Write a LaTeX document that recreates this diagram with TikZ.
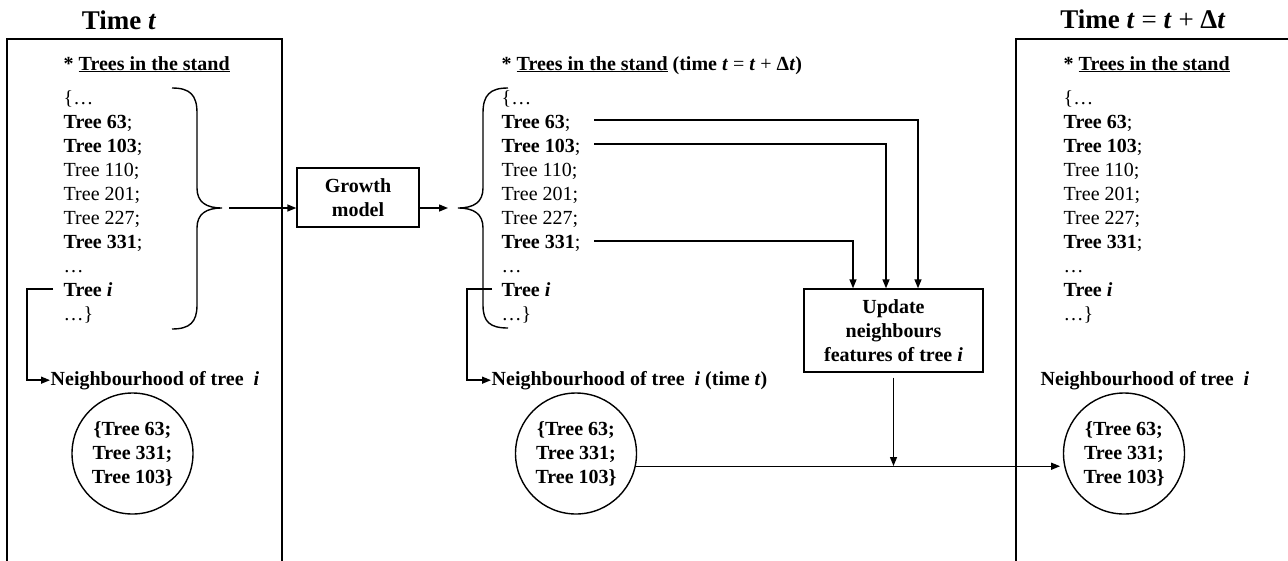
\documentclass[tikz,border=0pt]{standalone}
\usepackage{fontspec}
\setmainfont{Liberation Serif}
\usetikzlibrary{arrows.meta,calc}
\begin{document}
\begin{tikzpicture}[x=1pt,y=-1pt,
  line width=1.4pt,
  arr/.style={-{Triangle[length=9pt,width=7pt]}},
  lst/.style={anchor=base west,inner sep=0pt,font=\fontsize{20}{24}\selectfont},
  lstb/.style={anchor=base west,inner sep=0pt,font=\fontsize{20}{24}\selectfont\bfseries},
  ttl/.style={anchor=base,inner sep=0pt,font=\fontsize{27}{30}\selectfont\bfseries},
  procbox/.style={draw,rectangle,inner sep=0pt,align=center,font=\fontsize{20}{24}\selectfont\bfseries},
  nbcircle/.style={draw,circle,minimum size=121pt,inner sep=0pt,align=center,font=\fontsize{20}{24}\selectfont\bfseries},
]
\useasboundingbox (0,0) rectangle (1288,560);

% panels
\draw (7,562) -- (7,39) -- (282,39) -- (282,562);
\draw (1016,562) -- (1016,39) -- (1290,39);

% titles
\node[ttl] (tL) at (119,29) {Time \textit{t}};
\node[ttl] (tR) at (1143,28) {Time \textit{t} {\mdseries=} \textit{t} {\mdseries+} Δ\textit{t}};

% headers
\node[lstb] (hL) at (63,70) {* \underline{Trees in the stand}};
\node[lstb] (hM) at (501,70) {* \underline{Trees in the stand} (time \textit{t} {\mdseries=} \textit{t} {\mdseries+} Δ\textit{t})};
\node[lstb] (hR) at (1063,70) {* \underline{Trees in the stand}};

% lists
\foreach \p/\x in {L/63,M/501,R/1063} {
  \foreach \k/\t in {0/{\{\ldots},1/{\textbf{Tree 63};},2/{\textbf{Tree 103};},3/{Tree 110;},4/{Tree 201;},5/{Tree 227;},6/{\textbf{Tree 331};},7/{\ldots},8/{\textbf{Tree \textit{i}}},9/{\ldots\}}} {
    \node[lst] (\p\k) at (\x,{104+24*\k}) {\t};
  }
}

% braces
\draw (172,88) .. controls (190,88) and (197,95) .. (197,113) -- (197,188) .. controls (197,202) and (206,208) .. (222,208) .. controls (206,208) and (197,214) .. (197,228) -- (197,305) .. controls (197,322) and (190,329) .. (172,329);
\coordinate (bL) at (222,208);
\draw (508,88) .. controls (490,88) and (483,95) .. (483,113) -- (483,188) .. controls (483,202) and (474,208) .. (458,208) .. controls (474,208) and (483,214) .. (483,228) -- (483,305) .. controls (483,322) and (490,328) .. (508,328);
\coordinate (bM) at (458,208);

% process boxes
\node[procbox,minimum width=122pt,minimum height=59pt] (grow) at (358,197.5) {Growth\\model};
\node[procbox,minimum width=179pt,minimum height=83pt] (upd) at (893.5,330.5) {Update\\neighbours\\features of tree \textit{i}};

% neighbourhood labels
\node[lstb] (nL) at (50,385) {Neighbourhood of tree~\ \textit{i}};
\node[lstb] (nM) at (491,385) {Neighbourhood of tree~\ \textit{i} (time \textit{t})};
\node[lstb] (nR) at (1040,385) {Neighbourhood of tree~\ \textit{i}};

% circles
\node[nbcircle] (cL) at (132.5,453.5) {\{Tree 63;\\Tree 331;\\Tree 103\}};
\node[nbcircle] (cM) at (576,453.5) {\{Tree 63;\\Tree 331;\\Tree 103\}};
\node[nbcircle] (cR) at (1124,453.5) {\{Tree 63;\\Tree 331;\\Tree 103\}};

% connectors
\draw[arr,shorten <=7pt] (bL) -- (bL -| grow.west);
\draw[arr,shorten >=10pt] (bM -| grow.east) -- (bM);

\coordinate (s63) at (594,120);
\coordinate (s103) at (594,144);
\coordinate (s331) at (594,241);
\draw[arr] (s63) -| ([xshift=24.5pt]upd.north);
\draw[arr] (s103) -| ([xshift=-7.5pt]upd.north);
\draw[arr] (s331) -| ([xshift=-40.5pt]upd.north);

\coordinate (iL) at (53,289);
\draw[arr] (iL) -- (27,289) |- (nL.west);
\coordinate (iM) at (492,289);
\draw[arr] (iM) -- (467,289) |- (nM.west);

\coordinate (jn) at (893.5,466);
\draw[arr,shorten <=5pt] (upd.south) -- (jn);
\draw[arr,shorten >=4pt] (cM.-12) -- (cR.192);
\end{tikzpicture}
\end{document}
